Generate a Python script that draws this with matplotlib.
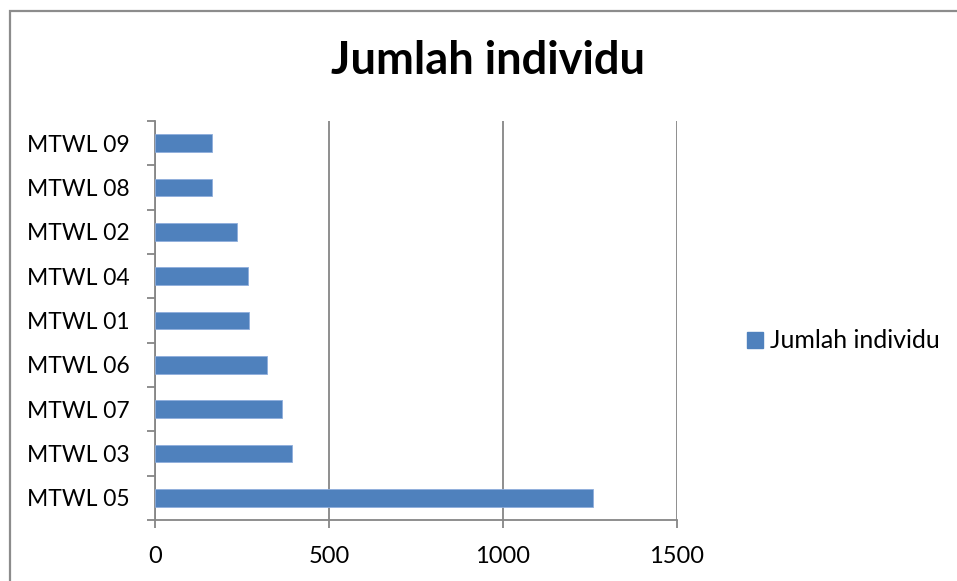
import matplotlib.pyplot as plt
from matplotlib.patches import Patch, Rectangle

# data, bottom to top as drawn
labels = ["MTWL 05", "MTWL 03", "MTWL 07", "MTWL 06", "MTWL 01",
          "MTWL 04", "MTWL 02", "MTWL 08", "MTWL 09"]
jumlah = [1258, 393, 365, 321, 270, 268, 236, 164, 163]
x_ticks = [0, 500, 1000, 1500]

W, H = 957, 581
BAR_COLOR = "#4F81BD"
GRID_COLOR = "#868686"

plt.rcParams["font.family"] = ["Lato", "DejaVu Sans"]

fig = plt.figure(figsize=(W / 100, H / 100), dpi=100)

# outer chart border (runs off the right and bottom edge like the screenshot)
fig.patches.append(Rectangle((9.5 / W, -0.1), 1.2, 1 - 10.5 / H + 0.1,
                             transform=fig.transFigure, fill=False,
                             ec="#8C8C8C", lw=1.6))

# plot area in pixels: x 155..677, y 121..520
ax = fig.add_axes([155 / W, (H - 520) / H, (677 - 155) / W, (520 - 121) / H])

y = list(range(len(labels)))
ax.barh(y, jumlah, height=0.4, color=BAR_COLOR, edgecolor="#8FAEDC",
        linewidth=0.6, zorder=3, label="Jumlah individu")

ax.set_xlim(0, 1500)
ax.set_ylim(-0.5, len(labels) - 0.5)
ax.set_xticks(x_ticks)
ax.set_xticklabels([str(t) for t in x_ticks])
ax.set_yticks(y)
ax.set_yticklabels(labels)
ax.set_yticks([i - 0.5 for i in range(len(labels) + 1)], minor=True)

ax.grid(axis="x", color=GRID_COLOR, lw=1.3, zorder=0)
for side in ("top", "right"):
    ax.spines[side].set_visible(False)
for side in ("left", "bottom"):
    ax.spines[side].set_color(GRID_COLOR)
    ax.spines[side].set_linewidth(1.3)

ax.tick_params(axis="y", which="major", length=0, pad=18, labelsize=16.5)
ax.tick_params(axis="y", which="minor", length=6, width=1.3, color=GRID_COLOR,
               direction="out")
ax.tick_params(axis="x", length=6, width=1.3, color=GRID_COLOR,
               direction="out", pad=13, labelsize=17)

fig.text(488 / W, 1 - 61 / H, "Jumlah individu", ha="center", va="center",
         fontsize=32.5, fontweight="bold")

fig.legend(handles=[Patch(color=BAR_COLOR, label="Jumlah individu")],
           loc="center left", bbox_to_anchor=(747 / W, 1 - 341 / H),
           frameon=False, fontsize=18, handlelength=0.62, handleheight=0.62,
           handletextpad=0.28, borderaxespad=0, borderpad=0)

fig.savefig("out.png", dpi=100)
